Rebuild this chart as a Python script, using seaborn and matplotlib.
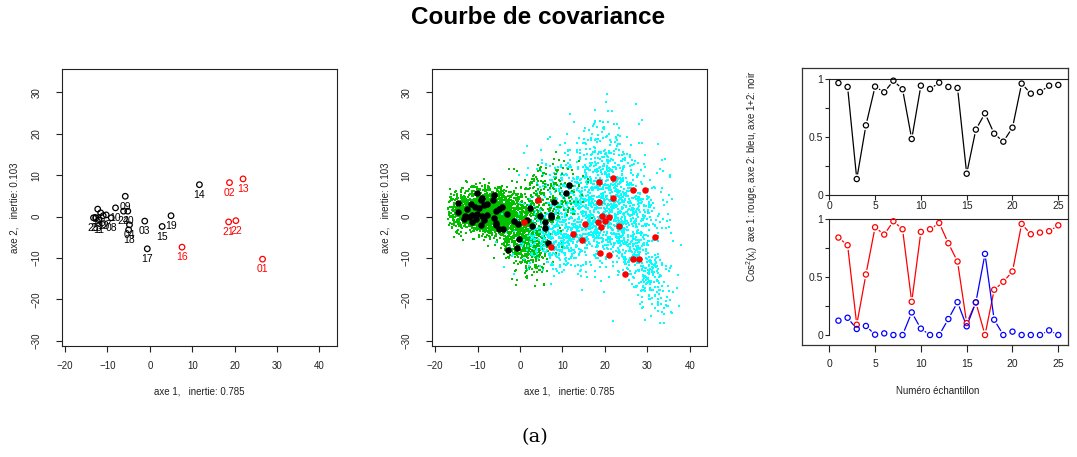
import numpy as np
import pandas as pd
import matplotlib
matplotlib.use("Agg")
import matplotlib.pyplot as plt
import seaborn as sns

# ---------------------------------------------------------------- data
# sample projections on the first two factorial axes
sample_ids = ["01", "02", "03", "04", "05", "06", "07", "08", "09", "10",
              "11", "12", "13", "14", "15", "16", "17", "18", "19", "20",
              "21", "22", "23", "24", "25"]
sample_ax1 = [26.6, 18.8, -1.2, -4.8, -12.3, -11.6, -10.3, -9.1, -5.8, -8.1,
              -12.0, -11.0, 22.0, 11.7, 2.9, 7.6, -0.6, -5.0, 5.0, -5.2,
              18.6, 20.3, -12.7, -6.2, -13.3]
sample_ax2 = [-10.3, 8.2, -1.1, -2.0, 1.8, 0.9, 0.4, -0.3, 4.9, 2.1,
              -0.8, 0.2, 9.1, 7.7, -2.4, -7.4, -7.8, -3.2, 0.2, 1.3,
              -1.3, -1.0, -0.3, 1.3, -0.3]
sample_group = ["rouge", "rouge", "noir", "noir", "noir", "noir", "noir", "noir", "noir", "noir",
                "noir", "noir", "rouge", "noir", "noir", "rouge", "noir", "noir", "noir", "noir",
                "rouge", "rouge", "noir", "noir", "noir"]

# individual observations shown as filled dots on the factorial plane
black_ax1 = [-14.6, -14.6, -10.1, -9.3, -8.9, -6.1, -6.4, -11.5, -12.6, -10.5,
             -9.6, -8.5, -7.7, -4.3, -5.0, -5.6, -13.0, -12.1, -11.3, -10.1,
             -8.9, -7.7, -13.3, -11.4, -10.4, -8.4, -6.1, -5.7, -9.2, -5.6,
             -5.0, -3.9, -3.1, -1.4, -0.5, -0.2, -2.9, -0.8, 2.3, 1.6,
             2.8, 4.7, 5.8, 5.8, 7.2, 7.3, 8.1, 10.9, 11.5, 6.6]
black_ax2 = [3.3, 1.0, 5.6, 4.1, 4.5, 5.1, 3.9, 3.0, 1.9, 2.3,
             2.0, 2.7, 3.0, 2.3, 1.8, 1.3, 0.1, -0.1, 0.3, 0.6,
             0.1, 0.3, -0.7, -1.2, -0.7, -0.9, -0.4, -1.5, -2.0, -2.0,
             -3.1, -2.9, 0.6, -1.1, -1.8, -5.5, -8.1, -7.7, 2.0, -0.8,
             -2.3, 0.2, -1.2, -2.7, 0.3, -0.2, 3.4, 5.7, 7.7, -6.3]
red_ax1 = [4.3, 1.0, 7.4, 12.4, 14.5, 15.3, 18.7, 22.0, 26.5, 29.4,
           18.5, 22.0, 19.2, 21.0, 20.1, 18.4, 19.0, 23.2, 31.7, 18.8,
           20.9, 26.5, 28.0, 24.7]
red_ax2 = [4.1, -1.2, -7.4, -4.2, -5.7, -1.9, 8.3, 9.2, 6.4, 6.4,
           3.5, 4.4, 0.2, -0.2, -1.0, -1.2, -2.5, -2.2, -5.0, -8.8,
           -9.2, -10.3, -10.3, -14.0]

# background pixel clouds: (count, centre ax1, centre ax2, spread ax1, spread ax2, correlation)
green_core = [(1800, -9.0, 1.5, 3.7, 2.4, 0.10),
              (650, -3.0, -0.5, 3.3, 2.9, -0.10),
              (500, 1.5, -6.5, 2.6, 3.4, -0.20)]
green_sparse = [(280, 5.5, 5.0, 4.5, 4.2, 0.20)]
cyan_cloud = [(850, 17.0, 3.0, 7.0, 7.0, 0.00),
              (550, 24.0, -1.0, 5.5, 6.5, -0.10),
              (380, 8.0, -6.0, 4.0, 3.4, 0.00),
              (160, 19.0, 15.0, 4.5, 6.0, 0.10),
              (220, 30.0, -14.0, 3.0, 5.0, -0.60)]

# squared cosines of the 25 samples
sample_num = list(range(1, 26))
cos2_ax1 = [0.842, 0.776, 0.089, 0.523, 0.931, 0.868, 0.983, 0.914, 0.287, 0.891,
            0.914, 0.968, 0.793, 0.635, 0.103, 0.282, 0.000, 0.391, 0.460, 0.549,
            0.960, 0.871, 0.885, 0.897, 0.948]
cos2_ax2 = [0.124, 0.149, 0.052, 0.078, 0.003, 0.014, 0.000, 0.000, 0.195, 0.055,
            0.000, 0.000, 0.138, 0.284, 0.075, 0.282, 0.701, 0.132, 0.000, 0.029,
            0.000, 0.000, 0.000, 0.040, 0.000]
cos2_sum = [0.968, 0.934, 0.138, 0.602, 0.937, 0.888, 0.988, 0.914, 0.484, 0.945,
            0.916, 0.971, 0.934, 0.925, 0.184, 0.565, 0.706, 0.530, 0.461, 0.582,
            0.963, 0.876, 0.890, 0.945, 0.951]

# ---------------------------------------------------------------- style
sns.set_theme(style="white")
plt.rcParams["font.family"] = ["Liberation Sans", "DejaVu Sans"]
plt.rcParams["mathtext.fontset"] = "custom"
plt.rcParams["mathtext.rm"] = "Liberation Sans"
plt.rcParams["axes.linewidth"] = 0.8
plt.rcParams["axes.edgecolor"] = "#222222"

W, H = 1077, 457
fig = plt.figure(figsize=(W / 100, H / 100), dpi=100)


def px_axes(left, top, right, bottom):
    return fig.add_axes([left / W, 1 - bottom / H, (right - left) / W, (bottom - top) / H])


FS = 7
colors = {"noir": "black", "rouge": "red"}


def style_plane(ax):
    ax.set_xlim(-20.8, 44.1)
    ax.set_ylim(-31.3, 35.6)
    ax.set_xticks(range(-20, 41, 10))
    ax.set_yticks(range(-30, 31, 10))
    ax.tick_params(axis="x", direction="out", length=4.5, width=0.8, pad=6,
                   labelsize=FS, bottom=True, colors="#222222")
    ax.tick_params(axis="y", direction="out", length=4.5, width=0.8, pad=10,
                   labelsize=FS, left=True, colors="#222222")
    for lab in ax.get_yticklabels():
        lab.set_rotation(90)
        lab.set_va("center")
    ax.set_xlabel("")
    ax.set_ylabel("")


# ---------------------------------------------------------------- panel 1: samples
ax1 = px_axes(61.7, 69.3, 336.7, 346)
df_s = pd.DataFrame({"id": sample_ids, "a1": sample_ax1, "a2": sample_ax2, "g": sample_group})
for g, sub in df_s.groupby("g"):
    sns.scatterplot(data=sub, x="a1", y="a2", ax=ax1, color=colors[g], facecolor="none",
                    edgecolor=colors[g], linewidth=0.9, s=16, zorder=3)
for _, r in df_s.iterrows():
    ax1.annotate(r["id"], (r["a1"], r["a2"]), xytext=(0, -7.4), textcoords="offset points",
                 ha="center", va="center", fontsize=7.5, color=colors[r["g"]], zorder=4)
style_plane(ax1)

# ---------------------------------------------------------------- panel 2: observations
ax2 = px_axes(431.7, 69.3, 707.3, 346)
rng = np.random.default_rng(7)


def cloud(params):
    xs, ys = [], []
    for n, cx, cy, sx, sy, rho in params:
        cov = [[sx * sx, rho * sx * sy], [rho * sx * sy, sy * sy]]
        p = rng.multivariate_normal([cx, cy], cov, size=n)
        xs.append(p[:, 0])
        ys.append(p[:, 1])
    x = np.concatenate(xs)
    y = np.concatenate(ys)
    keep = (x > -17) & (x < 38) & (y > -27) & (y < 30)
    return x[keep], y[keep]


gx, gy = cloud(green_core)
hx, hy = cloud(green_sparse)
cx, cy = cloud(cyan_cloud)
PT = dict(marker="s", s=2.2, linewidth=0)
sns.scatterplot(x=gx, y=gy, ax=ax2, color="#00C000", zorder=1, **PT)
sns.scatterplot(x=cx, y=cy, ax=ax2, color="#00FFFF", zorder=1.5, **PT)
sns.scatterplot(x=hx, y=hy, ax=ax2, color="#00C000", zorder=1.7, **PT)
sns.scatterplot(x=black_ax1, y=black_ax2, ax=ax2, color="black", s=22, linewidth=0, zorder=3)
sns.scatterplot(x=red_ax1, y=red_ax2, ax=ax2, color="red", s=22, linewidth=0, zorder=4)
style_plane(ax2)

for xc in (199.2, 569.5):
    fig.text(xc / W, 1 - 391 / H, "axe 1,   inertie: 0.785", ha="center", va="center",
             fontsize=FS, color="#222222")
for xc in (15, 385):
    fig.text(xc / W, 1 - 208 / H, "axe 2,   inertie: 0.103", rotation=90, ha="center",
             va="center", fontsize=FS, color="#222222")

# ---------------------------------------------------------------- panel 3: squared cosines
BOX_L, BOX_R, BOX_T, BOX_B, SPLIT = 801.7, 1068, 68.3, 345, 212
XL = (-3.01, 26.06)

frame = px_axes(BOX_L, BOX_T, BOX_R, BOX_B)
frame.set_xticks([])
frame.set_yticks([])
frame.patch.set_alpha(0)
for s in frame.spines.values():
    s.set_color("#333333")
    s.set_linewidth(0.9)

axt = px_axes(BOX_L, BOX_T, BOX_R, SPLIT)
axb = px_axes(BOX_L, SPLIT, BOX_R, BOX_B)
axt.set_xlim(*XL)
axt.set_ylim(-0.147, 1.095)
axb.set_xlim(*XL)
axb.set_ylim(-0.0864, 1.063)

for ax in (axt, axb):
    ax.patch.set_alpha(0)
    ax.spines["right"].set_visible(False)
    ax.spines["left"].set_position(("data", 0))
    ax.spines["left"].set_bounds(0, 1)
    ax.spines["top"].set_position(("data", 1))
    ax.spines["top"].set_bounds(0, XL[1])
    ax.set_yticks([0, 0.25, 0.5, 0.75, 1])
    ax.set_yticklabels(["0", "", "0.5", "", "1"])
    ax.set_xticks(range(0, 26, 5))
    ax.tick_params(axis="y", direction="out", length=3.1, width=0.8, pad=1.5,
                   labelsize=7.5, left=True, colors="#222222")

axt.spines["bottom"].set_position(("data", 0))
axt.spines["bottom"].set_bounds(0, XL[1])
axt.tick_params(axis="x", direction="out", length=3.6, width=0.8, pad=0.5,
                labelsize=7.5, bottom=True, colors="#222222")
axb.spines["bottom"].set_visible(False)
axb.tick_params(axis="x", direction="out", length=4.8, width=0.8, pad=5.5,
                labelsize=7.5, bottom=True, colors="#222222")


def gapped_line(ax, xs, ys, color, gap=5.1):
    # segments between consecutive points, leaving a gap around each marker
    pts = ax.transData.transform(np.column_stack([xs, ys]))
    inv = ax.transData.inverted()
    for p, q in zip(pts[:-1], pts[1:]):
        d = q - p
        L = np.hypot(*d)
        if L <= 2 * gap:
            continue
        u = d / L
        a = inv.transform(p + u * gap)
        b = inv.transform(q - u * gap)
        ax.plot([a[0], b[0]], [a[1], b[1]], color=color, lw=0.9, zorder=2)


def cos_series(ax, ys, color):
    gapped_line(ax, sample_num, ys, color)
    sns.scatterplot(x=sample_num, y=ys, ax=ax, color=color, facecolor="none",
                    edgecolor=color, linewidth=0.9, s=14, zorder=3, clip_on=False)


cos_series(axt, cos2_sum, "black")
cos_series(axb, cos2_ax1, "red")
cos_series(axb, cos2_ax2, "blue")
for ax in (axt, axb):
    ax.set_xlabel("")
    ax.set_ylabel("")

fig.text(938 / W, 1 - 391.5 / H, "Numéro échantillon", ha="center", va="center",
         fontsize=FS, color="#222222")
fig.text(752 / W, 1 - 176 / H,
         r"$\mathregular{Cos^2(x_i)}$  axe 1: rouge, axe 2: bleu, axe 1+2: noir",
         rotation=90, ha="center", va="center", fontsize=FS, color="#222222")

# ---------------------------------------------------------------- titles
fig.text(0.5, 1 - 18 / H, "Courbe de covariance", ha="center", va="center",
         fontsize=17.5, weight="bold", color="black")
fig.text(535 / W, 1 - 437 / H, "(a)", ha="center", va="center",
         fontsize=14, family="DejaVu Serif", color="black")

fig.savefig("out.png", dpi=100)
